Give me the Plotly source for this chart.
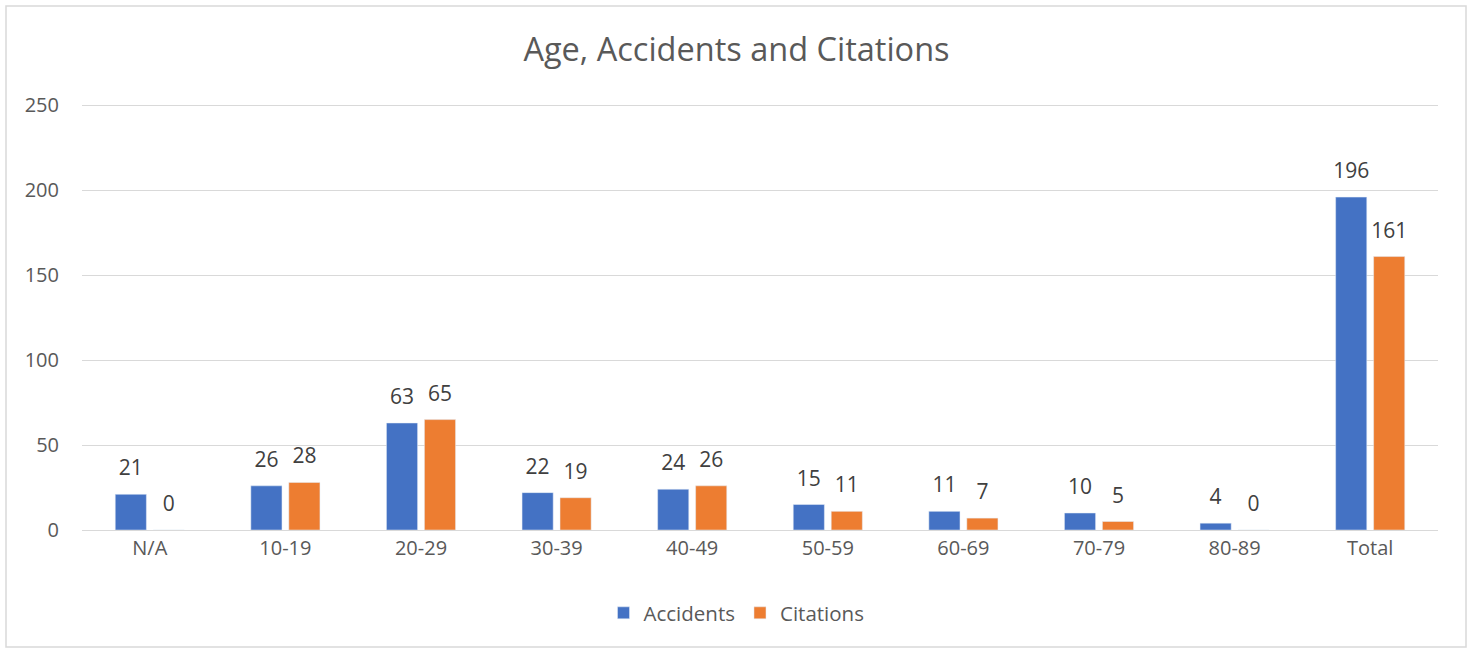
import plotly.graph_objects as go

categories = ["N/A", "10-19", "20-29", "30-39", "40-49", "50-59", "60-69", "70-79", "80-89", "Total"]
accidents = [21, 26, 63, 22, 24, 15, 11, 10, 4, 196]
citations = [0, 28, 65, 19, 26, 11, 7, 5, 0, 161]
y_ticks = [0, 50, 100, 150, 200, 250]

FONT = "Open Sans"
TXT = "#595959"
LABEL_TMPL = "<span style='font-size:21px'>%{y}</span><br> "

fig = go.Figure()
fig.add_trace(go.Bar(name="Accidents", x=categories, y=accidents, marker_color="#4472C4",
                     texttemplate=LABEL_TMPL, textposition="outside", cliponaxis=False,
                     constraintext="none", hoverinfo="skip",
                     textfont=dict(size=10, color="#404040", family=FONT)))
fig.add_trace(go.Bar(name="Citations", x=categories, y=citations, marker_color="#ED7D31",
                     texttemplate=LABEL_TMPL, textposition="outside", cliponaxis=False,
                     constraintext="none", hoverinfo="skip",
                     textfont=dict(size=10, color="#404040", family=FONT)))

fig.update_layout(
    width=1473, height=652,
    margin=dict(l=82, r=35, t=102, b=122),
    paper_bgcolor="white", plot_bgcolor="white",
    barmode="group", bargap=0.44, bargroupgap=0.18,
    font=dict(family=FONT, color=TXT, size=20),
    title=dict(text="Age, Accidents and Citations", x=0.5, xref="container", xanchor="center",
               y=1 - 50 / 652, yref="container", yanchor="middle",
               font=dict(size=32.5, color=TXT, family=FONT)),
    legend=dict(orientation="h", x=0.5, xref="container", xanchor="center",
                y=1 - 613 / 652, yref="container", yanchor="middle",
                font=dict(size=20.5, color=TXT, family=FONT), itemwidth=30,
                traceorder="normal"),
    xaxis=dict(showline=True, linecolor="#d9d9d9", linewidth=1, ticks="",
               tickfont=dict(size=20, color=TXT)),
    yaxis=dict(range=[0, 252], tickvals=y_ticks, showgrid=True, gridcolor="#d9d9d9",
               gridwidth=1, zeroline=False, showline=False, ticks="",
               tickfont=dict(size=20, color=TXT), ticklabelstandoff=22),
    uniformtext=dict(mode=False),
    shapes=[dict(type="rect", xref="paper", yref="paper",
                 x0=(6 - 82) / 1356, x1=(1466 - 82) / 1356,
                 y0=(530 - 647) / 428, y1=(530 - 6) / 428,
                 line=dict(color="#d9d9d9", width=1.5), fillcolor="rgba(0,0,0,0)", layer="below")],
)

fig.write_html("out.html", config={"displayModeBar": False},
               post_script="document.body.style.margin='0';document.body.style.overflow='hidden';")
